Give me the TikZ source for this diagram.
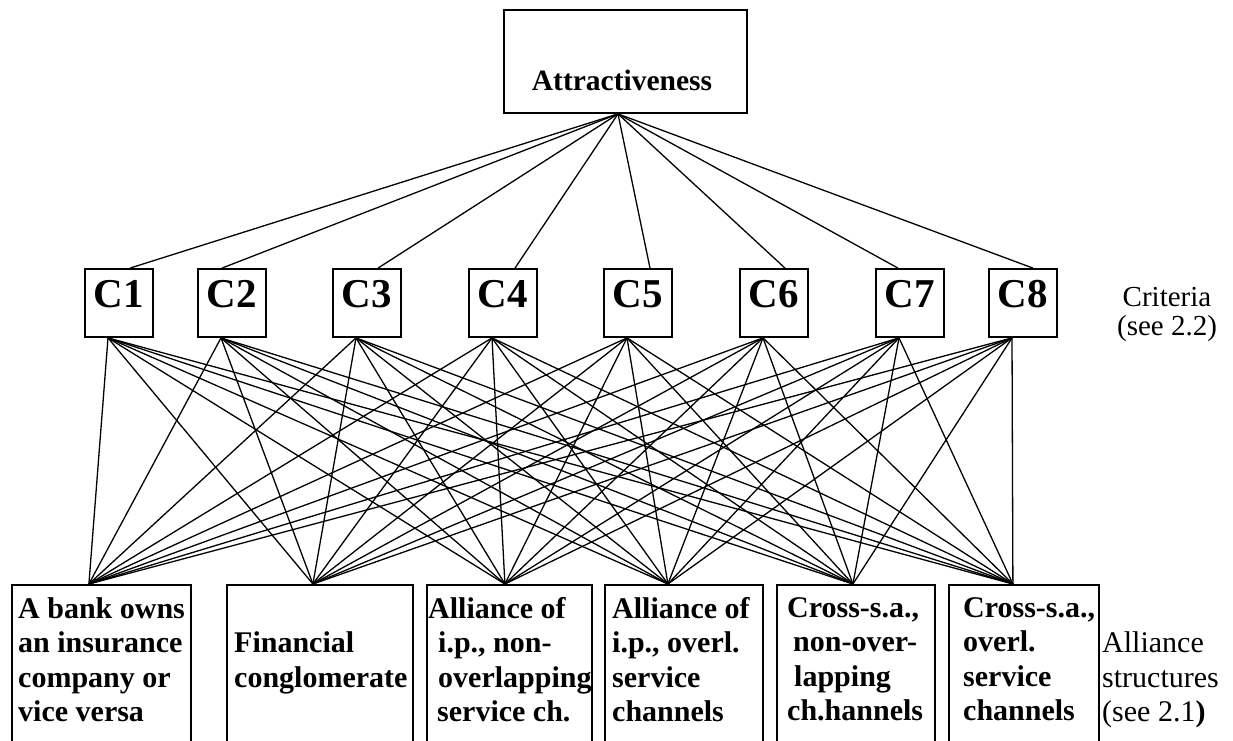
\documentclass[tikz,border=0pt]{standalone}
\usepackage{fontspec}
\setmainfont{Liberation Serif}

\begin{document}
\begin{tikzpicture}[x=1pt,y=-1pt,
    box/.style={draw,line width=1.8pt,inner sep=0pt},
    crit/.style={box,minimum width=68pt,minimum height=68pt,text height=27pt,text depth=19pt,
        font=\fontsize{41}{43}\selectfont\bfseries},
    alt/.style={box,anchor=north west,minimum height=175pt},
    alttext/.style={anchor=north west,inner sep=0pt,align=left,
        font=\fontsize{30}{34.5}\selectfont\bfseries},
    side/.style={inner sep=0pt,font=\fontsize{30}{34.5}\selectfont},
    link/.style={line width=1.3pt}]
    \useasboundingbox (0,0) rectangle (1233,740);
    \clip (0,0) rectangle (1233,740);

    % goal
    \node [box,minimum width=243pt,minimum height=103pt] (goal) at (625.5,61.5) {};
    \node [font=\fontsize{29.5}{32}\selectfont\bfseries] (goaltext) at (622,80) {Attractiveness};

    % criteria
    \node [crit] (c1) at (119,303) {C1};
    \node [crit] (c2) at (232,303) {C2};
    \node [crit] (c3) at (367,303) {C3};
    \node [crit] (c4) at (503,303) {C4};
    \node [crit] (c5) at (638,303) {C5};
    \node [crit] (c6) at (774,303) {C6};
    \node [crit] (c7) at (910,303) {C7};
    \node [crit] (c8) at (1023,303) {C8};
    \node [side,align=center,font=\fontsize{29}{29}\selectfont] (crittext) at (1167,314)
        {Criteria\\(see 2.2)};

    % alliance structures
    \node [alt,minimum width=179pt] (b1) at (11,584) {};
    \node [alt,minimum width=186pt] (b2) at (226,584) {};
    \node [alt,minimum width=165pt] (b3) at (426,584) {};
    \node [alt,minimum width=158pt] (b4) at (604,584) {};
    \node [alt,minimum width=158pt] (b5) at (776,584) {};
    \node [alt,minimum width=150pt] (b6) at (948,584) {};
    \node [alttext] (t1) at (18,597) {A bank owns\\an insurance\\company or\\vice versa};
    \node [alttext] (t2) at (234,631.5) {Financial\\conglomerate};
    \node [alttext] (t3) at (428,597)
        {Alliance of\\\hspace*{10pt}i.p., non-\\\hspace*{10pt}overlapping\\\hspace*{9pt}service ch.};
    \node [alttext] (t4) at (612,597) {Alliance of\\i.p., overl.\\service\\channels};
    \node [alttext] (t5) at (787,597)
        {Cross-s.a.,\\\hspace*{6pt}non-over-\\\hspace*{7pt}lapping\\ch.hannels};
    \node [alttext] (t6) at (963,597) {Cross-s.a.,\\overl.\\service\\channels};
    \node [side,anchor=north west,align=left] (alttitle) at (1102,631.5)
        {Alliance\\structures\\(see 2.1\textbf{)}};

    % links
    \foreach \c/\s in {c1/11,c2/-10,c3/11,c4/12,c5/12,c6/11,c7/-12,c8/10}
        \draw [link] ([xshift=-7.5pt]goal.south) -- ([xshift=\s pt]\c.north);
    \foreach \i in {1,...,8}
        \foreach \b/\s in {b1/-12.5,b2/-7,b3/-4.5,b4/-16,b5/-3,b6/-11}
            \draw [link] ([xshift=-11pt]c\i.south) -- ([xshift=\s pt]\b.north);
\end{tikzpicture}
\end{document}
